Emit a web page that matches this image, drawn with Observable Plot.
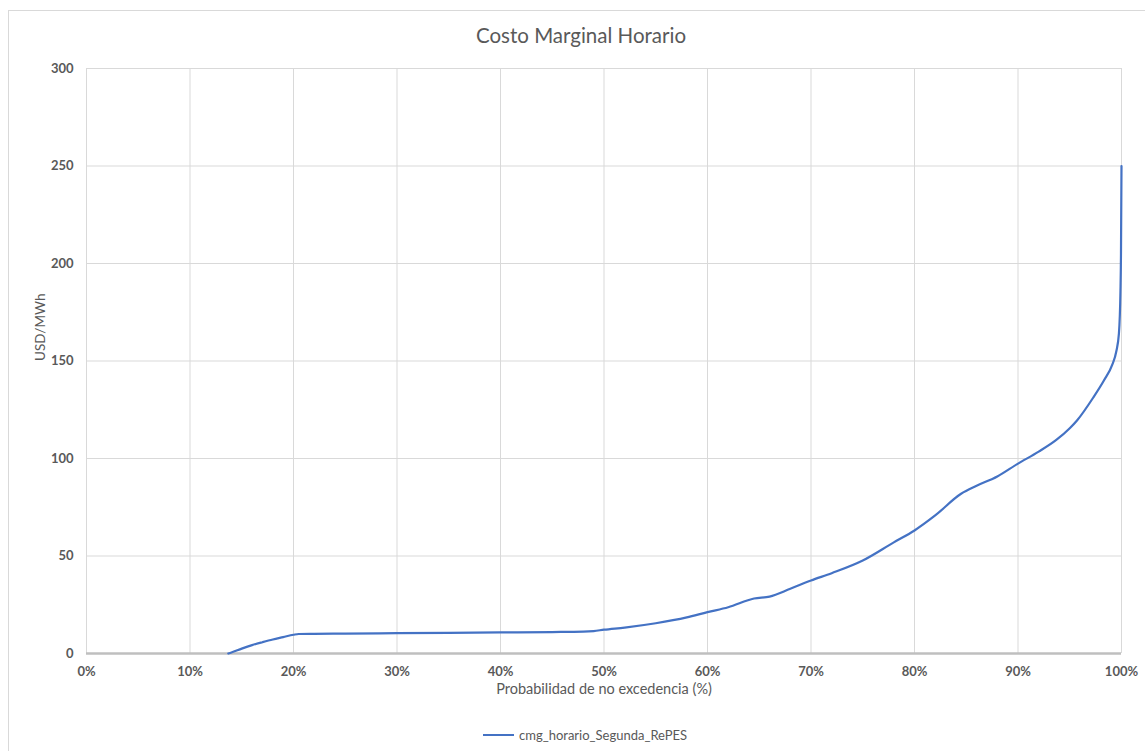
<!DOCTYPE html>
<html>
<head>
<meta charset="utf-8">
<script src="https://cdn.jsdelivr.net/npm/d3@7"></script>
<script src="https://cdn.jsdelivr.net/npm/@observablehq/plot@0.6"></script>
<style>
  html, body { margin: 0; padding: 0; background: #fff; }
  #wrap { position: relative; width: 1145px; height: 751px; overflow: hidden; font-family: Lato, "Open Sans", sans-serif; }
  #frame { position: absolute; left: 8px; top: 10px; right: -5px; bottom: -5px; border: 1px solid #d9d9d9; }
  #title { position: absolute; top: 23px; left: 0; width: 1162px; text-align: center; font-size: 20.5px; color: #595959; }
  #chart { position: absolute; left: 0; top: 50px; }
  #legend { position: absolute; top: 727px; left: 483px; font-size: 13px; color: #595959; display: flex; align-items: center; }
  #legend span.sw { display: inline-block; width: 31px; height: 2px; background: #4472C4; margin-right: 5px; }
</style>
</head>
<body>
<div id="wrap">
  <div id="frame"></div>
  <div id="title">Costo Marginal Horario</div>
  <div id="chart"></div>
  <div id="legend"><span class="sw"></span><span>cmg_horario_Segunda_RePES</span></div>
</div>
<script>
const seriesName = "cmg_horario_Segunda_RePES";
const prob = [13.7, 14, 15, 16, 17, 18, 19, 20, 20.5, 22, 25, 30, 35, 40, 45, 48, 49, 50, 52, 55, 58, 60, 62, 64.5, 66, 68, 70, 72, 75, 78, 80, 82, 84.5, 86, 88, 90, 92, 93.7, 95, 95.7, 97.3, 98.3, 99.1, 99.5, 99.75, 99.9, 99.95, 100];
const cmg = [0, 0.5, 2.5, 4.3, 5.8, 7.2, 8.4, 9.6, 10, 10.1, 10.2, 10.4, 10.6, 10.8, 11.0, 11.2, 11.5, 12.2, 13.3, 15.5, 18.5, 21.2, 23.7, 28.2, 29.2, 33.2, 37.4, 41.2, 47.7, 57, 63.1, 70.8, 81.9, 86, 90.8, 97.4, 103.5, 109.5, 115.5, 119.5, 131.5, 140, 148, 155, 164, 186, 205, 250];
const xTicks = [0, 10, 20, 30, 40, 50, 60, 70, 80, 90, 100];
const yTicks = [0, 50, 100, 150, 200, 250, 300];

const data = prob.map((p, i) => ({p, v: cmg[i]}));

const chart = Plot.plot({
  width: 1145,
  height: 650,
  marginTop: 18,
  marginBottom: 47,
  marginLeft: 86,
  marginRight: 24,
  style: { fontFamily: "Lato, 'Open Sans', sans-serif", color: "#595959", background: "transparent" },
  x: { domain: [0, 100], ticks: xTicks, tickFormat: d => d + "%", label: null },
  y: { domain: [0, 300], ticks: yTicks, label: null },
  marks: [
    Plot.gridX(xTicks, { stroke: "#d9d9d9", strokeOpacity: 1, strokeWidth: 1 }),
    Plot.gridY(yTicks, { stroke: "#d9d9d9", strokeOpacity: 1, strokeWidth: 1 }),
    Plot.ruleY([0], { stroke: "#bfbfbf", strokeWidth: 2.5 }),
    Plot.axisX(xTicks, { tickSize: 0, tickPadding: 13, fontSize: 13, fontWeight: "bold", fill: "#595959", tickFormat: d => d + "%" }),
    Plot.axisY(yTicks, { tickSize: 0, tickPadding: 13, fontSize: 13, fontWeight: "bold", fill: "#595959" }),
    Plot.text(["Probabilidad de no excedencia (%)"], { frameAnchor: "bottom", dy: 40, fontSize: 14.5, fill: "#595959" }),
    Plot.text(["USD/MWh"], { frameAnchor: "left", dx: -46, rotate: -90, fontSize: 13.5, fill: "#595959" }),
    Plot.line(data, { x: "p", y: "v", stroke: "#4472C4", strokeWidth: 2.2, curve: "monotone-x" })
  ]
});
document.getElementById("chart").appendChild(chart);
</script>
</body>
</html>
